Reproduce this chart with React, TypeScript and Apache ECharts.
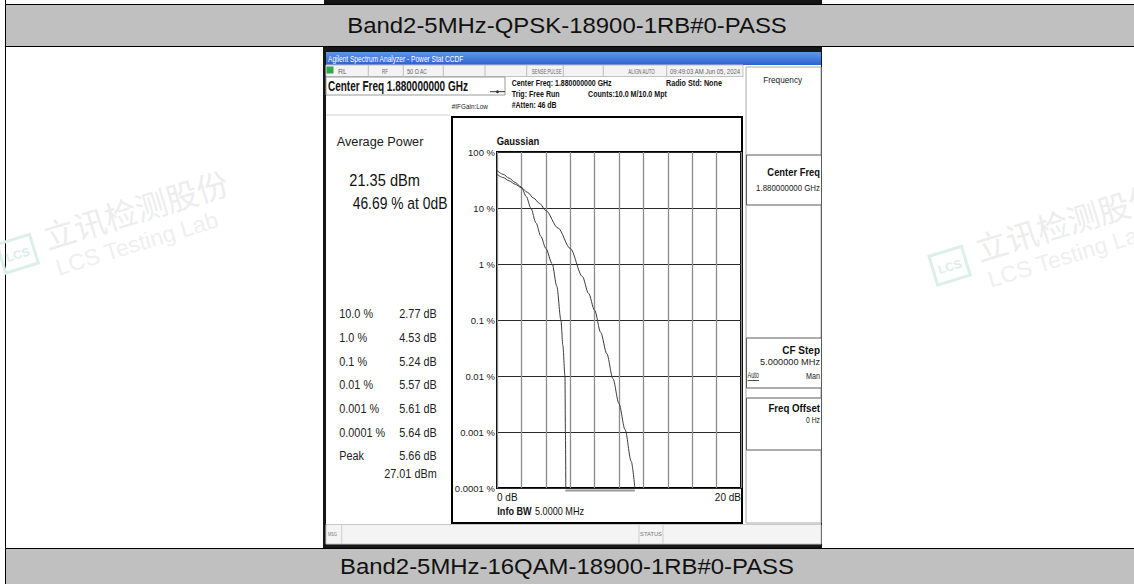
import React, { useEffect, useRef } from 'react';
import * as echarts from 'echarts';

// ---------- data ----------
const captionTop = 'Band2-5MHz-QPSK-18900-1RB#0-PASS';
const captionBottom = 'Band2-5MHz-16QAM-18900-1RB#0-PASS';

const xTickLabels = ['0 dB', '20 dB'];
const yTickLabels = ['0.0001 %', '0.001 %', '0.01 %', '0.1 %', '1 %', '10 %', '100 %'];

// Gaussian reference curve (dB, %)
const gaussianDb = [0, 0.5, 1, 1.5, 2, 2.5, 3, 3.5, 4, 5, 6, 7, 7.5, 8, 8.5, 9, 9.5, 10, 10.5, 11, 11.3];
const gaussianPct = [40, 35, 30.5, 26.5, 23, 19, 15, 12, 9, 4.4, 1.9, 0.6, 0.3, 0.15, 0.06, 0.025, 0.009, 0.0032, 0.0011, 0.0003, 0.0001];

// Measured CCDF curve (dB, %)
const measuredDb = [0, 0.5, 1, 1.5, 2, 2.4, 2.77, 3.2, 3.6, 4.0, 4.53, 4.9, 5.24, 5.4, 5.57, 5.61, 5.64];
const measuredPct = [46.69, 40, 34, 28.5, 23.5, 16, 10, 5.4, 3.1, 1.9, 1, 0.4, 0.1, 0.035, 0.01, 0.001, 0.0001];

// trace floor along the bottom of the graticule
const floorDb = [5.6, 11.3];
const floorPct = [0.00009, 0.00009];

const statLevels = ['10.0 %', '1.0 %', '0.1 %', '0.01 %', '0.001 %', '0.0001 %', 'Peak'];
const statValues = ['2.77 dB', '4.53 dB', '5.24 dB', '5.57 dB', '5.61 dB', '5.64 dB', '5.66 dB'];
const peakPower = '27.01 dBm';
const avgPower = '21.35 dBm';
const avgPct = '46.69 % at 0dB';

const statusLabels = ['RL', 'RF', '50 Ω', 'AC', 'SENSE:PULSE', 'ALIGN AUTO', '09:49:03 AM Jun 05, 2024'];

// ---------- helpers ----------
const FONT = '"Liberation Sans", Arial, Helvetica, sans-serif';
let mctx: CanvasRenderingContext2D | null = null;
function textWidth(text: string, size: number, weight: string) {
  if (!mctx) mctx = document.createElement('canvas').getContext('2d');
  mctx!.font = `${weight} ${size}px ${FONT}`;
  return mctx!.measureText(text).width;
}
type TOpts = { w?: number; sx?: number; weight?: string; align?: string; color?: string; z?: number; family?: string };
function T(text: string, x: number, y: number, size: number, o: TOpts = {}) {
  const weight = o.weight || 'normal';
  const sx = o.sx ?? (o.w ? o.w / textWidth(text, size, weight) : 1);
  return {
    type: 'text', x, y, scaleX: sx, z: o.z ?? 10, silent: true,
    style: {
      text, fontSize: size, fontWeight: weight, fontFamily: o.family || FONT,
      fill: o.color || '#111', textAlign: o.align || 'left', textVerticalAlign: 'middle',
    },
  };
}
function R(x: number, y: number, w: number, h: number, fill: any, stroke: string | null = null, lw = 1, z = -10) {
  return { type: 'rect', shape: { x, y, width: w, height: h }, z, silent: true, style: { fill, stroke, lineWidth: lw } };
}
function L(x1: number, y1: number, x2: number, y2: number, color: string, lw = 1, z = -9) {
  return { type: 'line', shape: { x1, y1, x2, y2 }, z, silent: true, style: { stroke: color, lineWidth: lw } };
}

function watermark(x: number, y: number) {
  return {
    type: 'group', x, y, rotation: (17 * Math.PI) / 180, z: -5, silent: true,
    children: [
      { type: 'text', x: -15, y: 0, z: -5, style: { text: '立讯检测股份', fontSize: 32, fontFamily: '"Noto Sans CJK SC", sans-serif', fill: '#ededed', textVerticalAlign: 'middle', textAlign: 'left' } },
      { type: 'text', x: -12, y: 34, z: -5, style: { text: 'LCS Testing Lab', fontSize: 23, fontFamily: FONT, fill: '#efefef', textVerticalAlign: 'middle', textAlign: 'left' } },
      { type: 'rect', z: -5, shape: { x: -62, y: -6, width: 34, height: 30 }, style: { fill: null, stroke: '#dcefe9', lineWidth: 3 } },
      { type: 'text', x: -45, y: 10, z: -5, style: { text: 'LCS', fontSize: 12, fontWeight: 'bold', fontFamily: FONT, fill: '#dcefe9', textAlign: 'center', textVerticalAlign: 'middle' } },
    ],
  };
}

function buildGraphic() {
  const g: any[] = [];
  // page / table
  g.push(R(0, 0, 1134, 584, '#fff', null, 1, -30));
  g.push(watermark(58, 232));
  g.push(watermark(990, 244));
  g.push(R(324, 0, 498, 4, '#141414'));
  g.push(R(5.5, 4.5, 1130, 42, '#c0c0c0', '#000', 1));
  g.push(T(captionTop, 567, 25.5, 22, { align: 'center', w: 440, color: '#111' }));
  g.push(R(5.5, 548.5, 1130, 40, '#c0c0c0', '#000', 1));
  g.push(T(captionBottom, 567, 566.5, 22, { align: 'center', w: 454, color: '#111' }));
  g.push(L(5.5, 0, 5.5, 584, '#000', 1, -8));

  // analyzer screenshot frame
  g.push(R(323, 47, 499, 501, '#161616'));
  g.push(R(326, 52, 495, 492, '#fff'));
  g.push(R(326, 52, 495, 13, {
    type: 'linear', x: 0, y: 0, x2: 0, y2: 1,
    colorStops: [{ offset: 0, color: '#5f98e8' }, { offset: 1, color: '#2a62cf' }],
  }));
  g.push(T('Agilent Spectrum Analyzer - Power Stat CCDF', 328, 58.7, 9, { w: 136, color: '#fff' }));

  // status row
  g.push(R(326, 65, 417, 11.5, '#f3f3f3', '#c4c4c4'));
  [368.3, 403.3, 443.3, 485, 526.7, 563.3, 603.3, 666.7].forEach((x) => g.push(L(x, 65, x, 76.5, '#bdbdbd')));
  g.push(R(326.5, 66.5, 7, 7, '#2fa84f'));
  const stX = [338, 382, 407, 420, 531.7, 628.3, 670];
  const stW = [9, 6, 12, 7, 30, 26.7, 70.7];
  statusLabels.forEach((s, i) => g.push(T(s, stX[i], 71.5, 6.5, { w: stW[i], color: '#666' })));

  // center freq box and settings
  g.push(R(326, 77, 179, 18, '#fff', '#9a9a9a'));
  g.push(T('Center Freq 1.880000000 GHz', 328, 86.5, 14, { weight: 'bold', w: 140 }));
  g.push(T('Center Freq: 1.880000000 GHz', 511.7, 83.3, 8.5, { weight: 'bold', w: 100 }));
  g.push(T('Radio Std: None', 666, 83.3, 8.5, { weight: 'bold', w: 56 }));
  g.push(T('Trig: Free Run', 511.7, 94.3, 8.5, { weight: 'bold', w: 48 }));
  g.push(T('Counts:10.0 M/10.0 Mpt', 588, 94.3, 8.5, { weight: 'bold', w: 79 }));
  g.push(T('#Atten: 46 dB', 511.7, 105, 8.5, { weight: 'bold', w: 45 }));
  g.push(T('#IFGain:Low', 451.7, 106.7, 8, { w: 36.3, color: '#222' }));
  g.push(L(490, 91.7, 505, 91.7, '#333'));
  g.push({ type: 'circle', shape: { cx: 497.5, cy: 91.7, r: 1.5 }, z: -8, style: { fill: '#333' } });

  // left result panel
  g.push(L(326, 115, 450, 115, '#d0d0d0'));
  g.push(T('Average Power', 336.7, 141, 13.5, { w: 86.7, color: '#1a1a1a' }));
  g.push(T(avgPower, 349.3, 180, 17, { w: 70.7, color: '#111' }));
  g.push(T(avgPct, 352.7, 203.3, 17, { w: 94.7, color: '#111' }));
  const tsx = 37.4 / textWidth(statValues[0], 13.5, 'normal');
  statLevels.forEach((s, i) => {
    const y = 314 + i * 23.67;
    g.push(T(s, 339.3, y, 13.5, { sx: tsx, color: '#222' }));
    g.push(T(statValues[i], 436.7, y, 13.5, { sx: tsx, align: 'right', color: '#222' }));
  });
  g.push(T(peakPower, 436.7, 474, 13.5, { sx: tsx, align: 'right', color: '#222' }));

  // plot frame
  g.push(R(452, 117, 290, 406, '#fff', '#000', 2));
  g.push(T('Gaussian', 496.7, 141.7, 11, { weight: 'bold', w: 42.6 }));
  g.push(T('Info BW', 497.3, 511, 10.5, { weight: 'bold', w: 34.4 }));
  g.push(T('5.0000 MHz', 535, 511, 10.5, { w: 49 }));

  // softkey panel
  g.push(R(746, 67, 75, 456, '#fff', '#a8a8a8'));
  g.push(T('Frequency', 782.7, 80, 9, { align: 'center', w: 39, color: '#222' }));
  g.push(R(746.5, 155, 75, 50, '#fff', '#5a5a5a'));
  g.push(T('Center Freq', 820, 172.7, 10, { weight: 'bold', align: 'right', w: 52.7 }));
  g.push(T('1.880000000 GHz', 820, 188.3, 8.5, { align: 'right', w: 64, color: '#222' }));
  g.push(R(746.5, 338, 75, 50, '#fff', '#5a5a5a'));
  g.push(T('CF Step', 820, 350, 10, { weight: 'bold', align: 'right', w: 37.7 }));
  g.push(T('5.000000 MHz', 820, 361.7, 8.5, { align: 'right', w: 60, color: '#222' }));
  g.push(T('Auto', 747.5, 376, 8.5, { w: 11.3, color: '#222' }));
  g.push(L(747.5, 380.5, 759, 380.5, '#222', 0.8, 5));
  g.push(T('Man', 820, 376, 8.5, { align: 'right', w: 14, color: '#222' }));
  g.push(R(746.5, 398, 75, 52, '#fff', '#5a5a5a'));
  g.push(T('Freq Offset', 820, 408.3, 10, { weight: 'bold', align: 'right', w: 51.7 }));
  g.push(T('0 Hz', 820, 420.7, 8.5, { align: 'right', w: 14, color: '#222' }));

  // bottom status bar
  g.push(R(326, 524.5, 495, 19.5, '#f4f4f4', '#c8c8c8'));
  g.push(T('MSG', 328, 533.5, 6, { w: 9, color: '#777' }));
  g.push(L(341.7, 524.5, 341.7, 544, '#cfcfcf'));
  g.push(L(639, 524.5, 639, 544, '#cfcfcf'));
  g.push(L(663, 524.5, 663, 544, '#cfcfcf'));
  g.push(T('STATUS', 651, 534, 6, { align: 'center', w: 22, color: '#777' }));
  return g;
}

export default function App() {
  const ref = useRef<HTMLDivElement>(null);
  useEffect(() => {
    if (!ref.current) return;
    const chart = echarts.init(ref.current, undefined, { renderer: 'svg' });
    const lineCommon = { type: 'line', symbol: 'none', showSymbol: false, silent: true };
    chart.setOption({
      animation: false,
      backgroundColor: '#fff',
      grid: { left: 497, top: 152, width: 244, height: 336, show: true, borderColor: '#000', borderWidth: 2, backgroundColor: 'rgba(0,0,0,0)' },
      xAxis: {
        type: 'value', min: 0, max: 20, interval: 2,
        axisLine: { show: false }, axisTick: { show: false },
        splitLine: { show: true, lineStyle: { color: '#8c8c8c', width: 1.3 } },
        axisLabel: {
          margin: 4, fontSize: 10, color: '#111', fontFamily: FONT,
          alignMinLabel: 'left', alignMaxLabel: 'right',
          formatter: (v: number) => (v === 0 ? xTickLabels[0] : v === 20 ? xTickLabels[1] : ''),
        },
      },
      yAxis: {
        type: 'log', logBase: 10, min: 0.0001, max: 100, splitNumber: 6,
        axisLine: { show: false }, axisTick: { show: false },
        splitLine: { show: true, lineStyle: { color: '#2a2a2a', width: 1 } },
        axisLabel: {
          margin: 2, fontSize: 9.5, color: '#1a1a1a', fontFamily: FONT,
          formatter: (v: number) => yTickLabels[Math.round(Math.log10(v)) + 4] ?? '',
        },
      },
      series: [
        { ...lineCommon, name: 'floor', data: floorDb.map((d, i) => [d, floorPct[i]]), clip: false, z: 1, lineStyle: { color: '#9a9a9a', width: 2 } },
        { ...lineCommon, name: 'Gaussian', data: gaussianDb.map((d, i) => [d, gaussianPct[i]]), smooth: 0.3, smoothMonotone: 'x', z: 3, lineStyle: { color: '#3a3a3a', width: 1 } },
        { ...lineCommon, name: 'Measured', data: measuredDb.map((d, i) => [d, measuredPct[i]]), smooth: 0.3, smoothMonotone: 'x', z: 3, lineStyle: { color: '#3a3a3a', width: 1 } },
      ],
      graphic: { elements: buildGraphic() },
    });
    return () => chart.dispose();
  }, []);
  return <div ref={ref} style={{ position: 'absolute', left: 0, top: 0, width: 1134, height: 584 }} />;
}
